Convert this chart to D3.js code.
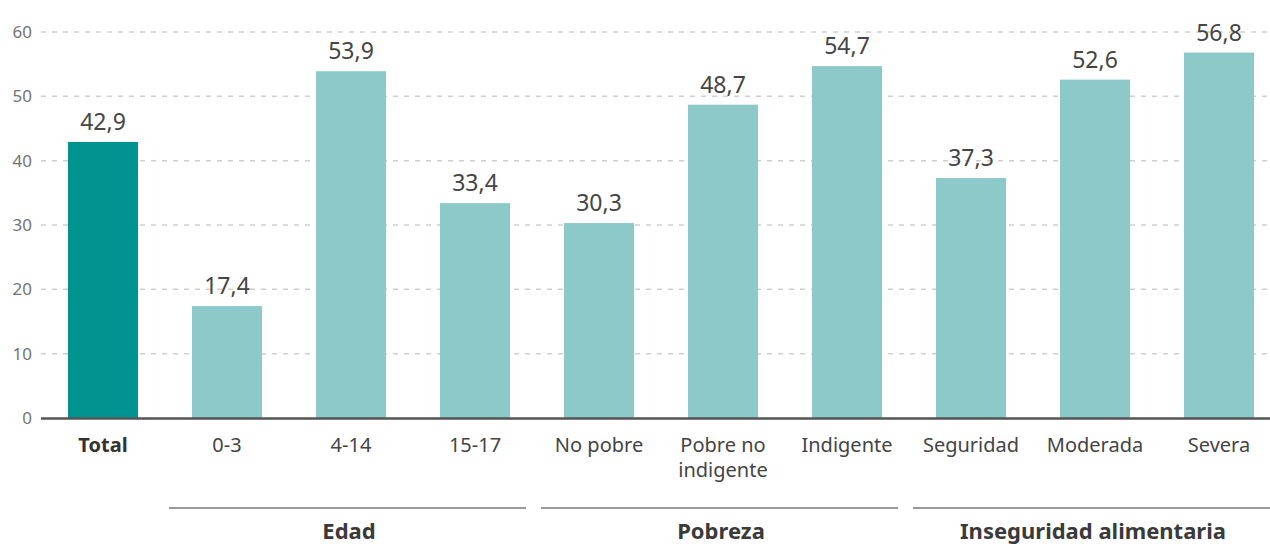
<!DOCTYPE html>
<html><head><meta charset="utf-8">
<script src="https://cdn.jsdelivr.net/npm/d3@7"></script>
<style>html,body{margin:0;padding:0;background:#fff;}svg{display:block;font-family:"Noto Sans",sans-serif;}</style>
</head><body>
<svg id="c" width="1270" height="546"></svg>
<script>
const categories = ["Total","0-3","4-14","15-17","No pobre","Pobre no|indigente","Indigente","Seguridad","Moderada","Severa"];
const values = [42.9,17.4,53.9,33.4,30.3,48.7,54.7,37.3,52.6,56.8];
const yTicks = [0,10,20,30,40,50,60];
const groups = ["Edad","Pobreza","Inseguridad alimentaria"];
const groupStart = [1,4,7];
const groupEnd = [3,6,9];

const svg = d3.select("#c");
const x = d3.scaleBand().domain(d3.range(categories.length)).range([41,1281]).paddingInner(0.435).paddingOuter(0.2175);
const y = d3.scaleLinear().domain([0,60]).range([418,32]);

// gridlines
svg.append("g").selectAll("line").data(yTicks.filter(d=>d>0)).join("line")
  .attr("x1",41).attr("x2",1270).attr("y1",d=>y(d)).attr("y2",d=>y(d))
  .attr("stroke","#cfcfcf").attr("stroke-width",1.5).attr("stroke-dasharray","5,6");

// y axis labels
const yAxis = d3.axisLeft(y).tickValues(yTicks).tickSize(0).tickPadding(0).tickFormat(d3.format("d"));
const ga = svg.append("g").attr("transform","translate(32,0)").call(yAxis);
ga.select(".domain").remove();
ga.selectAll("text").attr("font-size",17).attr("fill","#737373").attr("font-family","'Noto Sans',sans-serif");

// bars
svg.append("g").selectAll("rect").data(values).join("rect")
  .attr("x",(d,i)=>x(i)).attr("width",x.bandwidth())
  .attr("y",d=>y(d)).attr("height",d=>y(0)-y(d))
  .attr("fill",(d,i)=>i===0?"#009390":"#8dc9c9");

// value labels
svg.append("g").selectAll("text").data(values).join("text")
  .attr("x",(d,i)=>x(i)+x.bandwidth()/2).attr("y",d=>y(d)-12)
  .attr("text-anchor","middle").attr("font-size",23).attr("fill","#454545")
  .text(d=>d.toFixed(1).replace(".",","));

// baseline
svg.append("line").attr("x1",41).attr("x2",1270).attr("y1",y(0)+0.5).attr("y2",y(0)+0.5)
  .attr("stroke","#555").attr("stroke-width",2.5);

// category labels
const cl = svg.append("g").selectAll("text").data(categories).join("text")
  .attr("x",(d,i)=>x(i)+x.bandwidth()/2).attr("y",452)
  .attr("text-anchor","middle").attr("font-size",20)
  .attr("fill",(d,i)=>i===0?"#333":"#444")
  .attr("font-weight",(d,i)=>i===0?"bold":"normal");
cl.each(function(d){
  const t=d3.select(this);
  d.split("|").forEach((s,k)=>t.append("tspan").attr("x",t.attr("x")).attr("dy",k===0?0:25).text(s));
});

// group lines and labels
const step = x.step();
groups.forEach((g,i)=>{
  const a = x(groupStart[i]) - (step - x.bandwidth())/2;
  const b = x(groupEnd[i]) + x.bandwidth() + (step - x.bandwidth())/2;
  svg.append("line").attr("x1",a+4).attr("x2",Math.min(b-11,1270)).attr("y1",508).attr("y2",508)
    .attr("stroke","#777").attr("stroke-width",1.5);
  svg.append("text").attr("x",(x(groupStart[i])+x(groupEnd[i])+x.bandwidth())/2 - 2).attr("y",539)
    .attr("text-anchor","middle").attr("font-size",22).attr("font-weight","bold").attr("fill","#3a3a3a").text(g);
});
</script>
</body></html>
